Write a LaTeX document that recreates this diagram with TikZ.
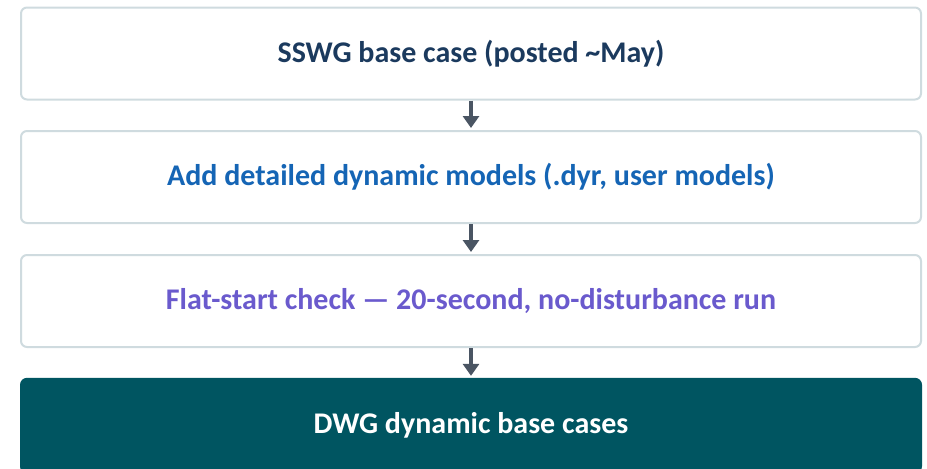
\documentclass[tikz,border=0pt]{standalone}
\usepackage{fontspec}
\setmainfont{Carlito}
\usetikzlibrary{arrows.meta}
\definecolor{boxline}{HTML}{CFDBDF}
\definecolor{navytext}{HTML}{1B3A5E}
\definecolor{bluetext}{HTML}{1565B5}
\definecolor{purpletext}{HTML}{6A5ACD}
\definecolor{tealfill}{HTML}{005561}
\definecolor{arrowgray}{HTML}{4A5563}
\tikzset{
  stepbox/.style={rectangle, rounded corners=4.5pt, draw=boxline, line width=1.5pt,
    fill=white, minimum width=675pt, minimum height=69pt, font=\fontsize{22.5}{26}\selectfont\bfseries},
  finalbox/.style={stepbox, draw=tealfill, fill=tealfill, text=white},
  flowarrow/.style={-{Triangle[width=12pt, length=9pt]}, line width=3pt, draw=arrowgray, shorten >=1.5pt}
}
\begin{document}
\begin{tikzpicture}[x=0.75pt, y=-0.75pt]
    \useasboundingbox (0,0) rectangle (927,468);
    \node[stepbox, text=navytext] (base) at (471,53.5) {SSWG base case (posted \textasciitilde May)};
    \node[stepbox, text=bluetext] (models) at (471,177) {Add detailed dynamic models (.dyr, user models)};
    \node[stepbox, text=purpletext] (flat) at (471,301) {Flat-start check — 20-second, no-disturbance run};
    \node[finalbox, minimum height=70pt] (dwg) at (471,425.5) {DWG dynamic base cases};
    \draw[flowarrow] (base) -- (models);
    \draw[flowarrow] (models) -- (flat);
    \draw[flowarrow] (flat) -- (dwg);
\end{tikzpicture}
\end{document}
